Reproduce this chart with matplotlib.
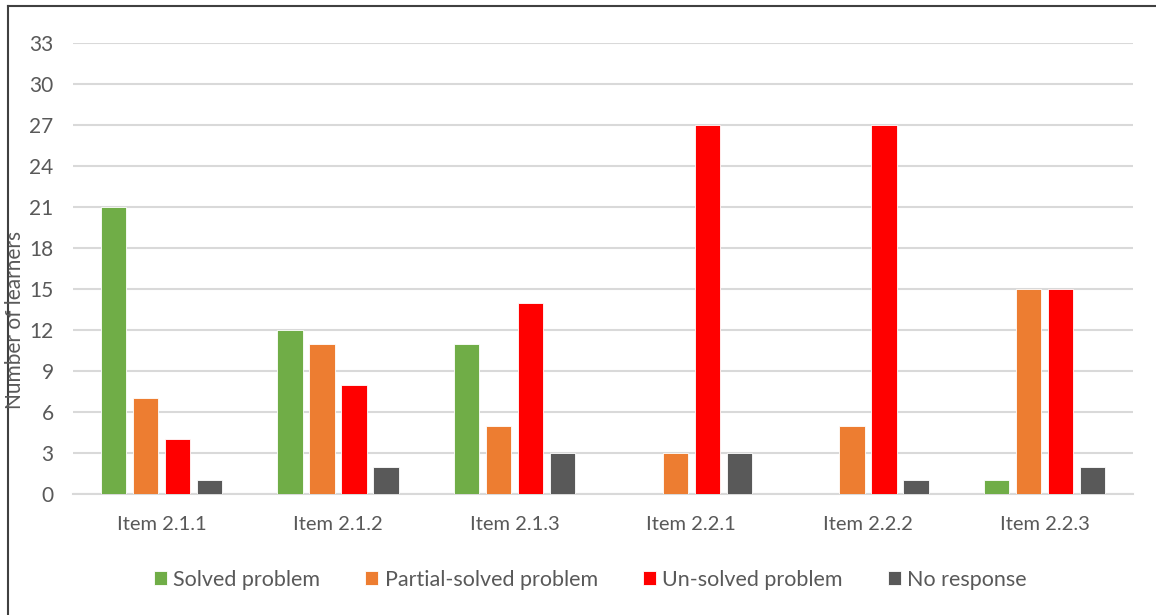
import numpy as np
import matplotlib.pyplot as plt
from matplotlib.lines import Line2D

items = ["Item 2.1.1", "Item 2.1.2", "Item 2.1.3", "Item 2.2.1", "Item 2.2.2", "Item 2.2.3"]
series_names = ["Solved problem", "Partial-solved problem", "Un-solved problem", "No response"]
solved = [21, 12, 11, 0, 0, 1]
partial = [7, 11, 5, 3, 5, 15]
unsolved = [4, 8, 14, 27, 27, 15]
no_response = [1, 2, 3, 3, 1, 2]
colors = ["#70AD47", "#ED7D31", "#FF0000", "#595959"]
yticks = list(range(0, 34, 3))

plt.rcParams['font.family'] = ['Lato', 'DejaVu Sans']

fig = plt.figure(figsize=(11.56, 6.15), dpi=100)
ax = fig.add_axes([73 / 1156, 1 - 494 / 615, 1060 / 1156, 451 / 615])

x = np.arange(len(items))
pitch = 0.181
width = 0.142
for i, (vals, name, col) in enumerate(zip([solved, partial, unsolved, no_response], series_names, colors)):
    ax.bar(x + (i - 1.5) * pitch, vals, width, color=col, label=name,
           edgecolor='white', linewidth=0.6, zorder=3)

ax.set_xlim(-0.5, len(items) - 0.5)
ax.set_ylim(0, 33)
ax.set_yticks(yticks)
ax.set_xticks(x)
ax.set_xticklabels(items)
ax.grid(axis='y', color='#D9D9D9', linewidth=1.5, zorder=0)
for s in ['top', 'right', 'left']:
    ax.spines[s].set_visible(False)
ax.spines['bottom'].set_color('#D9D9D9')
ax.spines['bottom'].set_linewidth(1.5)
ax.tick_params(axis='both', length=0, colors='#595959')
ax.tick_params(axis='x', pad=16, labelsize=14.5)
ax.tick_params(axis='y', pad=14, labelsize=15)

fig.text(15 / 1156, 1 - 320 / 615, "Number of learners", rotation=90,
         ha='center', va='center', color='#595959', fontsize=15)

ax.legend(loc='center', bbox_to_anchor=(0.488, -0.19), ncol=4, frameon=False,
          fontsize=15.5, labelcolor='#595959', handlelength=0.6, handleheight=0.6,
          handletextpad=0.3, columnspacing=2.1)

# frame edges along the left and top
fig.add_artist(Line2D([8 / 1156, 8 / 1156], [0, 1 - 6 / 615], color='#404040', linewidth=1.5))
fig.add_artist(Line2D([8 / 1156, 1], [1 - 6 / 615, 1 - 6 / 615], color='#404040', linewidth=1.5))

fig.savefig("out.png", dpi=100)
